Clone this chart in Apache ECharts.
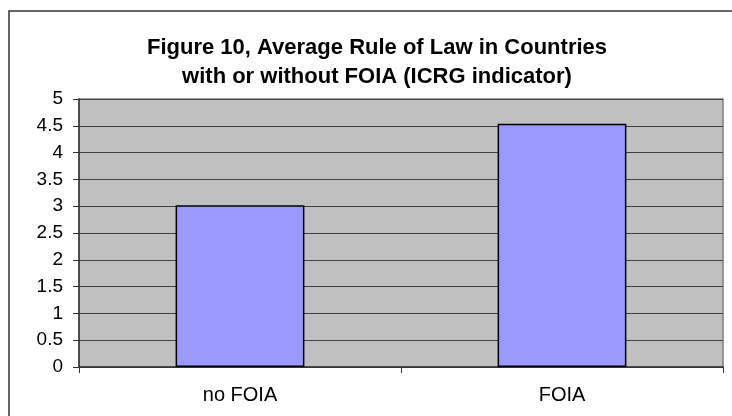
<!DOCTYPE html>
<html>
<head>
<meta charset="utf-8">
<script src="https://cdn.jsdelivr.net/npm/echarts@6/dist/echarts.min.js"></script>
<style>html,body{margin:0;padding:0;background:#fff}#c{width:732px;height:416px}</style>
</head>
<body>
<div id="c"></div>
<script>
const categories = ["no FOIA", "FOIA"];
const values = [3.02, 4.54];
const titleText = "Figure 10, Average Rule of Law in Countries\nwith or without FOIA (ICRG indicator)";

const chart = echarts.init(document.getElementById('c'), null, {renderer: 'canvas'});
chart.setOption({
  animation: false,
  backgroundColor: '#ffffff',
  title: {
    text: titleText,
    left: 372, top: 28, textAlign: 'center',
    textStyle: {fontFamily: 'Liberation Sans, Arial, sans-serif', fontWeight: 'bold', fontSize: 22, color: '#000', lineHeight: 29}
  },
  graphic: [{
    type: 'rect', silent: true, z: -1,
    shape: {x: 9, y: 11, width: 740, height: 420},
    style: {fill: 'none', stroke: '#333', lineWidth: 1.5}
  }],
  grid: {left: 79, right: 9, top: 99, bottom: 49, show: true, backgroundColor: '#c0c0c0', borderColor: '#808080', borderWidth: 1.5},
  xAxis: {
    type: 'category', data: categories,
    axisLine: {lineStyle: {color: '#333', width: 1.5}},
    axisTick: {show: true, length: 6, lineStyle: {color: '#333'}},
    axisLabel: {fontFamily: 'Liberation Sans, Arial, sans-serif', fontSize: 20, color: '#000', margin: 18}
  },
  yAxis: {
    type: 'value', min: 0, max: 5, interval: 0.5,
    axisLine: {show: true, lineStyle: {color: '#333', width: 1.5}},
    axisTick: {show: true, length: 6, lineStyle: {color: '#333'}},
    axisLabel: {fontFamily: 'Liberation Sans, Arial, sans-serif', fontSize: 19, color: '#000', margin: 16},
    splitLine: {show: true, lineStyle: {color: '#404040', width: 1}}
  },
  series: [{
    type: 'bar', data: values, barWidth: '40%',
    itemStyle: {color: '#9999ff', borderColor: '#000', borderWidth: 1.5}
  }]
});
</script>
</body>
</html>
